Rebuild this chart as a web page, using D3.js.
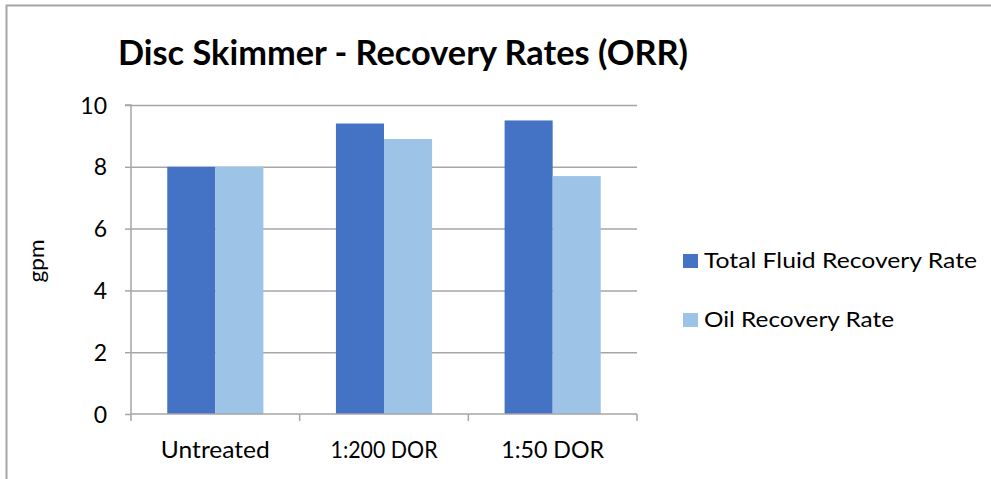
<!DOCTYPE html>
<html><head><meta charset="utf-8">
<script src="https://cdn.jsdelivr.net/npm/d3@7"></script>
<style>body{margin:0;background:#fff}svg{display:block;font-family:Lato,"Open Sans",sans-serif}</style>
</head><body><svg id="c" width="991" height="479"></svg>
<script>
const categories = ["Untreated", "1:200 DOR", "1:50 DOR"];
const seriesNames = ["Total Fluid Recovery Rate", "Oil Recovery Rate"];
const totalFluid = [8.0, 9.4, 9.5];
const oilRate = [8.0, 8.9, 7.7];
const yTicks = [0, 2, 4, 6, 8, 10];
const colors = ["#4472C4", "#9DC3E6"];

const svg = d3.select("#c");
// frame
svg.append("path").attr("d", "M6.5,479 V5.5 H991").attr("fill", "none").attr("stroke", "#a6a6a6").attr("stroke-width", 2);

const L = 131, R = 637, T = 105, B = 414;
const x = d3.scaleBand().domain(categories).range([L, R]).paddingInner(0.43).paddingOuter(0.215);
const xs = d3.scaleBand().domain(seriesNames).range([0, x.bandwidth()]);
const y = d3.scaleLinear().domain([0, 10]).range([B, T]);

// gridlines
svg.append("g").selectAll("line").data(yTicks.filter(d => d > 0)).join("line")
  .attr("x1", L).attr("x2", R).attr("y1", d => y(d) + 0.5).attr("y2", d => y(d) + 0.5)
  .attr("stroke", "#a6a6a6").attr("stroke-width", 1.5);

const series = [totalFluid, oilRate];
series.forEach((vals, si) => {
  svg.append("g").selectAll("rect").data(vals).join("rect")
    .attr("x", (d, i) => x(categories[i]) + xs(seriesNames[si]))
    .attr("width", xs.bandwidth())
    .attr("y", d => y(d))
    .attr("height", d => B - y(d))
    .attr("fill", colors[si]);
});

// y axis
const ya = d3.axisLeft(y).tickValues(yTicks).tickSize(6).tickPadding(18).tickFormat(d3.format("d"));
const gy = svg.append("g").attr("transform", `translate(${L},0)`).call(ya);
gy.select(".domain").attr("stroke", "#a6a6a6").attr("stroke-width", 1.5).attr("d", `M-6,${T}H0V${B}`);
gy.selectAll(".tick line").attr("stroke", "#a6a6a6").attr("stroke-width", 1.5);
gy.selectAll(".tick text").attr("font-size", 23).attr("fill", "#000").attr("font-family", "Lato").attr("dy", "0.35em");

// x axis
const xa = d3.axisBottom(x).tickSize(0).tickPadding(28);
const gx = svg.append("g").attr("transform", `translate(0,${B})`).call(xa);
gx.select(".domain").attr("stroke", "#a6a6a6").attr("stroke-width", 1.5).attr("d", `M${L},0H${R}`);
const xLabelWidths = [109, 107, 103];
gx.selectAll(".tick text").attr("font-size", 23).attr("fill", "#000").attr("font-family", "Lato")
  .attr("textLength", (d, i) => xLabelWidths[i]).attr("lengthAdjust", "spacingAndGlyphs");
const step = (R - L) / categories.length;
gx.append("g").selectAll("line").data(d3.range(categories.length + 1)).join("line")
  .attr("x1", i => L + i * step).attr("x2", i => L + i * step).attr("y1", 0).attr("y2", 7)
  .attr("stroke", "#a6a6a6").attr("stroke-width", 1.5);

// y label
svg.append("text").attr("transform", "translate(44,261) rotate(-90)").attr("text-anchor", "middle")
  .attr("font-size", 22).attr("textLength", 43).attr("lengthAdjust", "spacingAndGlyphs").text("gpm");

// title
svg.append("text").attr("x", 118).attr("y", 65).attr("font-size", 34).attr("font-weight", "bold")
  .attr("textLength", 570).attr("lengthAdjust", "spacingAndGlyphs").text("Disc Skimmer - Recovery Rates (ORR)");

// legend
const lg = svg.append("g").selectAll("g").data(seriesNames).join("g")
  .attr("transform", (d, i) => `translate(683,${254 + i * 59})`);
lg.append("rect").attr("width", 15).attr("height", 14).attr("fill", (d, i) => colors[i]);
lg.append("text").attr("x", 21).attr("y", 14).attr("font-size", 21).text(d => d)
  .attr("textLength", (d, i) => i === 0 ? 273 : 190).attr("lengthAdjust", "spacingAndGlyphs");
</script></body></html>
